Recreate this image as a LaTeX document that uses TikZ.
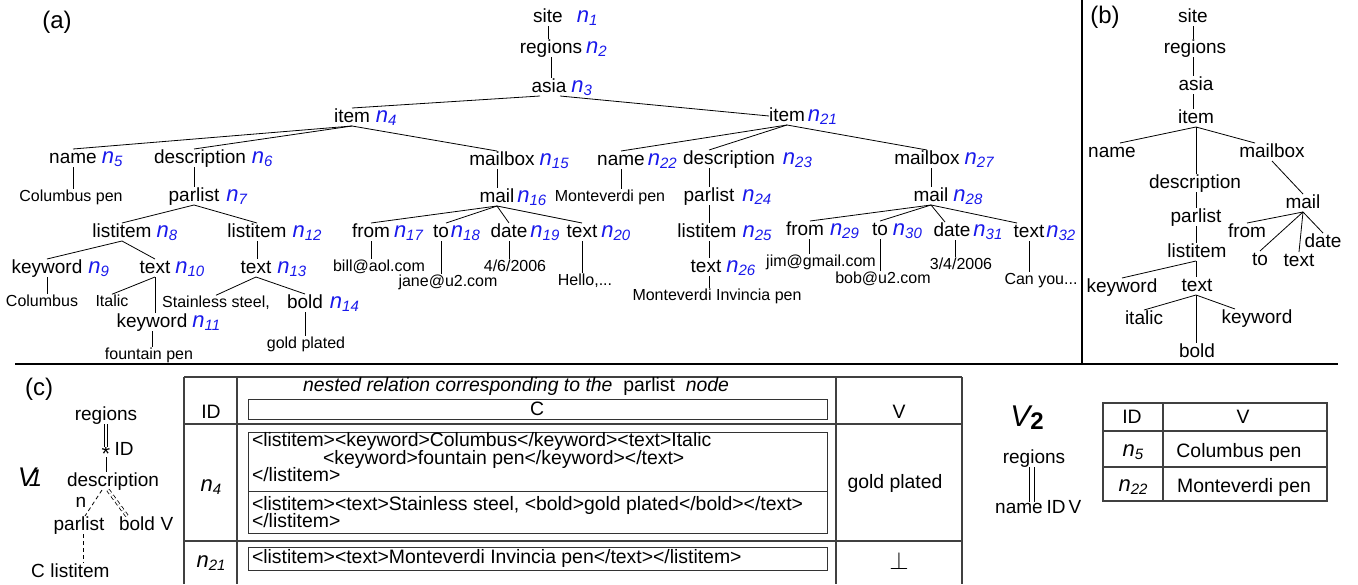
\documentclass[tikz,border=0pt]{standalone}
\usepackage{fontspec}
\setmainfont{Liberation Sans}
\definecolor{nblue}{RGB}{25,25,235}
\newcommand{\nid}[1]{{\fontsize{22}{22}\selectfont\itshape n\raisebox{-3pt}{\fontsize{15}{15}\selectfont #1}}}
\begin{document}
\begin{tikzpicture}[x=1pt,y=-1pt,
  w/.style={font=\fontsize{19}{19}\selectfont, inner sep=0pt, outer sep=0pt, text height=14pt, text depth=4pt},
  s/.style={font=\fontsize{16}{16}\selectfont, inner sep=0pt, outer sep=0pt, text height=12pt, text depth=3.5pt},
  t/.style={font=\fontsize{19.4}{19.4}\selectfont, inner sep=0pt, outer sep=0pt},
  nl/.style={inner sep=0pt, outer sep=0pt, anchor=base west, text=nblue},
  nk/.style={inner sep=0pt, outer sep=0pt, text=black},
  e/.style={line width=0.8pt, draw=black},
  tb/.style={line width=1.2pt, draw=black!75},
  ib/.style={line width=1pt, draw=black!80},
  dsh/.style={dash pattern=on 4pt off 3pt},
  lab/.style={font=\fontsize{24}{24}\selectfont, inner sep=0pt}]
\useasboundingbox (0,0) rectangle (1358,584);

% frame lines
\draw[line width=1.6pt] (1082,0) -- (1082,364);
\draw[line width=2pt] (15,364) -- (1338,364);
\node[lab] (la) at (57,22) {(a)};
\node[lab] (lb) at (1105,17) {(b)};
\node[lab] (lc) at (39,389) {(c)};

% ---------- tree (a) ----------
\node[w] (a1) at (548,17) {site};
\node[w] (a2) at (551,48) {regions};
\node[w] (a3) at (549,87) {asia};
\node[w] (a4) at (352,117) {item};
\node[w] (a21) at (787,116) {item};
\node[w] (a5) at (73,158) {name};
\node[w] (a6) at (200,158) {description};
\node[w] (a15) at (502,160) {mailbox};
\node[w] (a22) at (621,160) {name};
\node[w] (a23) at (729,159) {description};
\node[w] (a27) at (927,159) {mailbox};
\node[s] (v5) at (71,197) {Columbus pen};
\node[w] (a7) at (194,196) {parlist};
\node[w] (a16) at (497,197) {mail};
\node[s] (v22) at (610,197) {Monteverdi pen};
\node[w] (a24) at (709,196) {parlist};
\node[w] (a28) at (931,196) {mail};
\node[w] (a8) at (122,232) {listitem};
\node[w] (a12) at (257,232) {listitem};
\node[w] (a17) at (371,232) {from};
\node[w] (a18) at (441,232) {to};
\node[w] (a19) at (509,232) {date};
\node[w] (a20) at (582,232) {text};
\node[w] (a25) at (707,232) {listitem};
\node[w] (a29) at (805,230) {from};
\node[w] (a30) at (880,230) {to};
\node[w] (a31) at (952,231) {date};
\node[w] (a32) at (1029,232) {text};
\node[w] (a9) at (47,268) {keyword};
\node[w] (a10) at (155,268) {text};
\node[w] (a13) at (256,268) {text};
\node[s] (v17) at (379,267) {bill@aol.com};
\node[s] (v18) at (448,282) {jane@u2.com};
\node[s] (v19) at (515,267) {4/6/2006};
\node[s] (v20) at (585,281) {Hello,...};
\node[w] (a26) at (706,267) {text};
\node[s] (v29) at (821,262) {jim@gmail.com};
\node[s] (v30) at (883,279) {bob@u2.com};
\node[s] (v31) at (961,265) {3/4/2006};
\node[s] (v32) at (1041,280) {Can you...};
\node[s] (v26) at (717,296) {Monteverdi Invincia pen};
\node[s] (v9) at (42,302) {Columbus};
\node[s] (v10) at (112,302) {Italic};
\node[s] (v13) at (216,303) {Stainless steel,};
\node[w] (a14) at (305,303) {bold};
\node[w] (a11) at (152,322) {keyword};
\node[s] (v14) at (306,344) {gold plated};
\node[s] (v11) at (149,355) {fountain pen};

% blue identifiers
\node[nl] (l1) at ([xshift=14pt]a1.base east) {\nid{1}};
\node[nl] (l2) at ([xshift=4pt]a2.base east) {\nid{2}};
\node[nl] (l3) at ([xshift=5pt]a3.base east) {\nid{3}};
\node[nl] (l4) at ([xshift=6pt]a4.base east) {\nid{4}};
\node[nl] (l21) at ([xshift=3pt]a21.base east) {\nid{21}};
\node[nl] (l5) at ([xshift=5pt]a5.base east) {\nid{5}};
\node[nl] (l6) at ([xshift=6pt]a6.base east) {\nid{6}};
\node[nl] (l15) at ([xshift=5pt]a15.base east) {\nid{15}};
\node[nl] (l22) at ([xshift=3pt]a22.base east) {\nid{22}};
\node[nl] (l23) at ([xshift=8pt]a23.base east) {\nid{23}};
\node[nl] (l27) at ([xshift=5pt]a27.base east) {\nid{27}};
\node[nl] (l7) at ([xshift=7pt]a7.base east) {\nid{7}};
\node[nl] (l16) at ([xshift=3pt]a16.base east) {\nid{16}};
\node[nl] (l24) at ([xshift=8pt]a24.base east) {\nid{24}};
\node[nl] (l28) at ([xshift=5pt]a28.base east) {\nid{28}};
\node[nl] (l8) at ([xshift=5pt]a8.base east) {\nid{8}};
\node[nl] (l12) at ([xshift=6pt]a12.base east) {\nid{12}};
\node[nl] (l17) at ([xshift=4pt]a17.base east) {\nid{17}};
\node[nl] (l18) at ([xshift=2pt]a18.base east) {\nid{18}};
\node[nl] (l19) at ([xshift=3pt]a19.base east) {\nid{19}};
\node[nl] (l20) at ([xshift=4pt]a20.base east) {\nid{20}};
\node[nl] (l25) at ([xshift=6pt]a25.base east) {\nid{25}};
\node[nl] (l29) at ([xshift=6pt]a29.base east) {\nid{29}};
\node[nl] (l30) at ([xshift=5pt]a30.base east) {\nid{30}};
\node[nl] (l31) at ([xshift=3pt]a31.base east) {\nid{31}};
\node[nl] (l32) at ([xshift=2pt]a32.base east) {\nid{32}};
\node[nl] (l9) at ([xshift=6pt]a9.base east) {\nid{9}};
\node[nl] (l10) at ([xshift=5pt]a10.base east) {\nid{10}};
\node[nl] (l13) at ([xshift=6pt]a13.base east) {\nid{13}};
\node[nl] (l26) at ([xshift=5pt]a26.base east) {\nid{26}};
\node[nl] (l14) at ([xshift=7pt]a14.base east) {\nid{14}};
\node[nl] (l11) at ([xshift=5pt]a11.base east) {\nid{11}};

% edges (a)
\draw[e] (a1.south) -- (a1.south |- a2.north);
\draw[e] (a2.south) -- (a2.south |- a3.north);
\draw[e] ([xshift=-9pt]a3.south) -- (a4.north);
\draw[e] ([xshift=11pt]a3.south) -- (a21.west);
\draw[e] (a4.south) -- (a5.north);
\draw[e] (a4.south) -- (a7 |- a6.north);
\draw[e] (a4.south) -- (a16 |- a15.north);
\draw[e] (a21.south) -- (a22.north);
\draw[e] (a21.south) -- (a24 |- a23.north);
\draw[e] (a21.south) -- (a27.north);
\draw[e] (a5.south) -- (a5.south |- v5.north);
\draw[e] (a7 |- a6.south) -- (a7.north);
\draw[e] (a16 |- a15.south) -- (a16.north);
\draw[e] (a22.south) -- (a22.south |- v22.north);
\draw[e] (a24 |- a23.south) -- (a24.north);
\draw[e] (a28 |- a27.south) -- (a28.north);
\draw[e] (a7.south) -- (a8.north);
\draw[e] (a7.south) -- (a12.north);
\draw[e] (a16.south) -- (a17.north);
\draw[e] (a16.south) -- ([xshift=5pt]a18.north);
\draw[e] (a16.south) -- (a19.north);
\draw[e] (a16.south) -- (a20.north);
\draw[e] (a28.south) -- ([xshift=5pt]a29.north);
\draw[e] (a28.south) -- (a30.north);
\draw[e] (a28.south) -- ([xshift=-7pt]a31.north);
\draw[e] (a28.south) -- ([xshift=-12pt]a32.north);
\draw[e] (a24.south) -- (a24.south |- a25.north);
\draw[e] (a24.south |- a25.south) -- (a24.south |- a26.north);
\draw[e] (a24.south |- a26.south) -- (a24.south |- v26.north);
\draw[e] (a17.south) -- (a17.south |- v17.north);
\draw[e] (a18.south) -- (a18.south |- v18.north);
\draw[e] (a19.south) -- (a19.south |- v19.north);
\draw[e] (a20.south) -- (a20.south |- v20.north);
\draw[e] ([xshift=4pt]a29.south) -- ([xshift=4pt]a29.south |- v29.north);
\draw[e] (a30.south) -- (a30.south |- v30.north);
\draw[e] ([xshift=3pt]a31.south) -- ([xshift=3pt]a31.south |- v31.north);
\draw[e] (a32.south) -- (a32.south |- v32.north);
\draw[e] (a8.south) -- (a9.north);
\draw[e] (a8.south) -- (a10.north);
\draw[e] (a12.south) -- (a12.south |- a13.north);
\draw[e] (a9.south) -- (a9.south |- v9.north);
\draw[e] (a10.south) -- (v10.north);
\draw[e] (a10.south) -- (a10.south |- a11.north);
\draw[e] (a13.south) -- (v13.north);
\draw[e] (a13.south) -- (a14.north);
\draw[e] (a14.south) -- (a14.south |- v14.north);
\draw[e] (a11.south) -- (a11.south |- v11.north);

% ---------- tree (b) ----------
\node[w] (b1) at (1193,17) {site};
\node[w] (b2) at (1195,48) {regions};
\node[w] (b3) at (1196,85) {asia};
\node[w] (b4) at (1196,118) {item};
\node[w] (b5) at (1112,152) {name};
\node[w] (b6) at (1272,152) {mailbox};
\node[w] (b7) at (1195,183) {description};
\node[w] (b8) at (1303,203) {mail};
\node[w] (b9) at (1196,217) {parlist};
\node[w] (b10) at (1247,232) {from};
\node[w] (b11) at (1323,242) {date};
\node[w] (b12) at (1197,252) {listitem};
\node[w] (b13) at (1260,260) {to};
\node[w] (b14) at (1299,261) {text};
\node[w] (b15) at (1122,287) {keyword};
\node[w] (b16) at (1197,286) {text};
\node[w] (b17) at (1144,319) {italic};
\node[w] (b18) at (1257,318) {keyword};
\node[w] (b19) at (1197,352) {bold};
\draw[e] (b1.south) -- (b1.south |- b2.north);
\draw[e] (b1.south |- b2.south) -- (b1.south |- b3.north);
\draw[e] (b1.south |- b3.south) -- (b1.south |- b4.north);
\draw[e] (b4.south) -- ([xshift=8pt]b5.north);
\draw[e] (b4.south) -- ([xshift=-17pt]b6.north);
\draw[e] (b4.south) -- (b4.south |- b7.north);
\draw[e] (b4.south |- b7.south) -- (b4.south |- b9.north);
\draw[e] (b4.south |- b9.south) -- (b4.south |- b12.north);
\draw[e] (b4.south |- b12.south) -- (b4.south |- b16.north);
\draw[e] (b4.south |- b12.south) -- (b15.north);
\draw[e] (b4.south |- b16.south) -- (b17.north);
\draw[e] (b4.south |- b16.south) -- ([xshift=-22pt]b18.north);
\draw[e] (b4.south |- b16.south) -- (b4.south |- b19.north);
\draw[e] (b6.south) -- (b8.north);
\draw[e] (b8.south) -- (b10.north);
\draw[e] (b8.south) -- (b13.north);
\draw[e] (b8.south) -- (b14.north);
\draw[e] (b8.south) -- (b11.north);

% ---------- (c) view V1 ----------
\node[inner sep=0pt] (cv1) at (30,477) {\fontsize{27}{27}\selectfont\itshape V\kern-7pt\raisebox{0pt}{\fontsize{24}{24}\selectfont 1}};
\node[w] (cr) at (106,415) {regions};
\node[w, font=\fontsize{22}{22}\selectfont] (cs) at (106,456) {*};
\node[w] (cid) at (124,450) {ID};
\node[w] (cd) at (113,481) {description};
\node[w] (cn) at (81,502) {n};
\node[w] (cp) at (79,525) {parlist};
\node[w] (cb) at (137,525) {bold};
\node[w] (cv) at (167,525) {V};
\node[w] (cc) at (38,572) {C};
\node[w] (cl) at (80,572) {listitem};
\draw[e, double, double distance=2pt] (cs |- cr.south) -- (cs.north);
\draw[e] ([yshift=8pt]cs.south) -- (cs.south |- cd.north);
\draw[e, dsh] ([xshift=-11pt]cd.south) -- ([xshift=6pt]cp.north);
\draw[e, dsh] ([xshift=4pt]cp.south) -- ([xshift=4pt]cp.south |- cl.north);
\draw[e, dsh, double, double distance=2pt] ([xshift=-5pt]cd.south) -- ([xshift=-10pt]cb.north);

% table V1
\draw[tb] (184,377) -- (962,377);
\draw[tb] (184,377) -- (184,584);
\draw[tb] (962,377) -- (962,584);
\draw[tb] (237,377) -- (237,584);
\draw[tb] (836,377) -- (836,584);
\draw[line width=1.6pt, draw=black!75] (184,424) -- (962,424);
\draw[line width=1.6pt, draw=black!75] (184,541) -- (962,541);
\draw[ib] (248,399) rectangle (827,419);
\draw[ib] (248,432) rectangle (827,533);
\draw[ib] (248,491) -- (827,491);
\draw[ib] (248,547) rectangle (827,570);
\node[t] (tid) at (211,412) {ID};
\node[t, anchor=base west] (ttl) at (303,391) {\itshape nested relation corresponding to the\ \ \upshape parlist\ \ \itshape node};
\node[t] (tc) at (537,409) {C};
\node[t] (tvh) at (899,412) {V};
\node[nk] (tn4) at (211,487) {\nid{4}};
\node[nk] (tn21) at (211,563) {\nid{21}};
\node[t, anchor=base west] (r1) at (252,446) {<listitem><keyword>Columbus</keyword><text>Italic};
\node[t, anchor=base west] (r2) at (323,464) {<keyword>fountain pen</keyword></text>};
\node[t, anchor=base west] (r3) at (252,481) {</listitem>};
\node[t, anchor=base west] (r4) at (252,510) {<listitem><text>Stainless steel, <bold>gold plated</bold></text>};
\node[t, anchor=base west] (r5) at (252,527) {</listitem>};
\node[t, anchor=base west] (r6) at (252,563) {<listitem><text>Monteverdi Invincia pen</text></listitem>};
\node[t] (tgp) at (895,483) {gold plated};
\node[inner sep=0pt] (tperp) at (899,561) {\fontsize{24}{24}\selectfont$\perp$};

% ---------- (c) view V2 ----------
\node[inner sep=0pt] (cv2) at (1027,418) {\fontsize{30}{30}\selectfont\itshape V\upshape\bfseries\raisebox{-3pt}{\fontsize{24}{24}\selectfont 2}};
\node[w] (dr) at (1034,458) {regions};
\node[w] (dn) at (1019,508) {name};
\node[w] (did) at (1056,508) {ID};
\node[w] (dv) at (1075,508) {V};
\draw[e] ([xshift=-5pt]dr.south) -- ++(0,35);
\draw[e] (dr.south) -- ++(0,35);
\draw[tb] (1103,403) rectangle (1327,501);
\draw[tb] (1163,403) -- (1163,501);
\draw[line width=1.6pt, draw=black!75] (1103,431) -- (1327,431);
\draw[tb] (1103,467) -- (1327,467);
\node[t] (uid) at (1132,417) {ID};
\node[t] (uv) at (1243,417) {V};
\node[nk] (un5) at (1133,452) {\nid{5}};
\node[t] (uc) at (1239,452) {Columbus pen};
\node[nk] (un22) at (1133,487) {\nid{22}};
\node[t] (um) at (1244,487) {Monteverdi pen};
\end{tikzpicture}
\end{document}
